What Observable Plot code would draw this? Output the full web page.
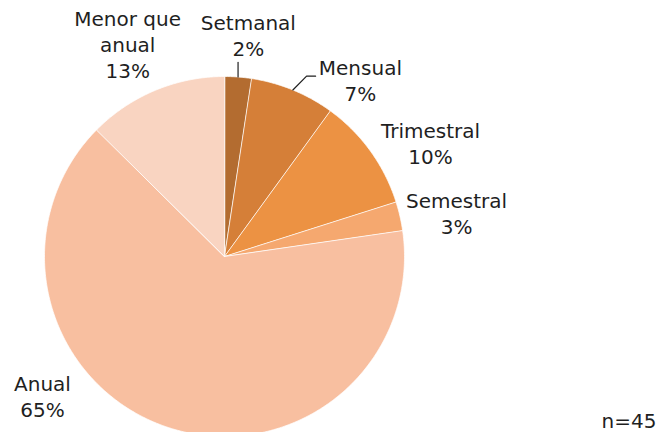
<!DOCTYPE html>
<html><head><meta charset="utf-8">
<script src="https://cdn.jsdelivr.net/npm/d3@7"></script>
<script src="https://cdn.jsdelivr.net/npm/@observablehq/plot@0.6"></script>
<style>body{margin:0;background:#fff}</style>
</head><body><div id="chart"></div>
<script>
// ---- data ----
const categories = ["Setmanal", "Mensual", "Trimestral", "Semestral", "Anual", "Menor que anual"];
const shares = [2.4, 7.6, 10.1, 2.6, 64.7, 12.6];
const shareLabels = ["2%", "7%", "10%", "3%", "65%", "13%"];
const categoryLabels = ["Setmanal", "Mensual", "Trimestral", "Semestral", "Anual", "Menor que\nanual"];
const colors = ["#b36c30", "#d57f38", "#ec9243", "#f5a86f", "#f8bfa0", "#f9d4c1"];
const note = "n=45";

// ---- layout ----
const W = 658, H = 432, CX = 224, CY = 256, R = 180;
// label anchors as polar [angle in degrees clockwise from 12 o'clock, distance in radii]
const labelPolar = [[6.6, 1.154], [40.1, 1.172], [64.3, 1.270], [83.0, 1.299], [229.65, 1.327], [333.9, 1.223]];
// leader elbows (in radii) for slices that have one
const leaderPaths = {0: [[null, 1.078]], 1: [[0.456, 1.0017], [0.506, 1.0017]]};

const total = d3.sum(shares);
let acc = 0;
const slices = shares.map((v, i) => {
  const a0 = acc / total * 2 * Math.PI; acc += v;
  const a1 = acc / total * 2 * Math.PI;
  return {cat: categories[i], a0, a1, mid: (a0 + a1) / 2, i};
});

const poly = [];
slices.forEach(s => {
  poly.push({cat: s.cat, x: 0, y: 0});
  const n = Math.max(2, Math.ceil((s.a1 - s.a0) / (Math.PI / 360)));
  for (let k = 0; k <= n; k++) {
    const a = s.a0 + (s.a1 - s.a0) * k / n;
    poly.push({cat: s.cat, x: Math.sin(a), y: Math.cos(a)});
  }
});

const leaders = [];
Object.entries(leaderPaths).forEach(([i, pts]) => {
  const s = slices[+i];
  const sx = Math.sin(s.mid), sy = Math.cos(s.mid);
  leaders.push({cat: s.cat, x: sx, y: sy});
  pts.forEach(([px, py]) => leaders.push({cat: s.cat, x: px == null ? sx : px, y: py}));
});

const labels = slices.map((s, i) => {
  const [ang, d] = labelPolar[i];
  const a = ang * Math.PI / 180;
  return {x: d * Math.sin(a), y: d * Math.cos(a), text: categoryLabels[i] + "\n" + shareLabels[i]};
});

const chart = Plot.plot({
  width: W, height: H, margin: 0,
  x: {domain: [-CX / R, (W - CX) / R], axis: null},
  y: {domain: [-(H - CY) / R, CY / R], axis: null},
  color: {domain: categories, range: colors},
  style: {fontFamily: "DejaVu Sans, Verdana, sans-serif", background: "#fff", color: "#1f1f1f"},
  marks: [
    Plot.line(poly, {x: "x", y: "y", z: "cat", fill: "cat", stroke: "white", strokeWidth: 0.8, strokeOpacity: 0.9, curve: "linear-closed"}),
    Plot.line(leaders, {x: "x", y: "y", z: "cat", stroke: "#1f1f1f", strokeWidth: 1.2}),
    Plot.text(labels, {x: "x", y: "y", text: "text", fontSize: 20, lineHeight: 1.3, dy: -15, fill: "#1f1f1f"}),
    Plot.text([note], {frameAnchor: "bottom-right", text: d => d, dx: -2, dy: -5, fontSize: 20, fill: "#1f1f1f"})
  ]
});
document.getElementById("chart").appendChild(chart);
</script>
</body></html>
